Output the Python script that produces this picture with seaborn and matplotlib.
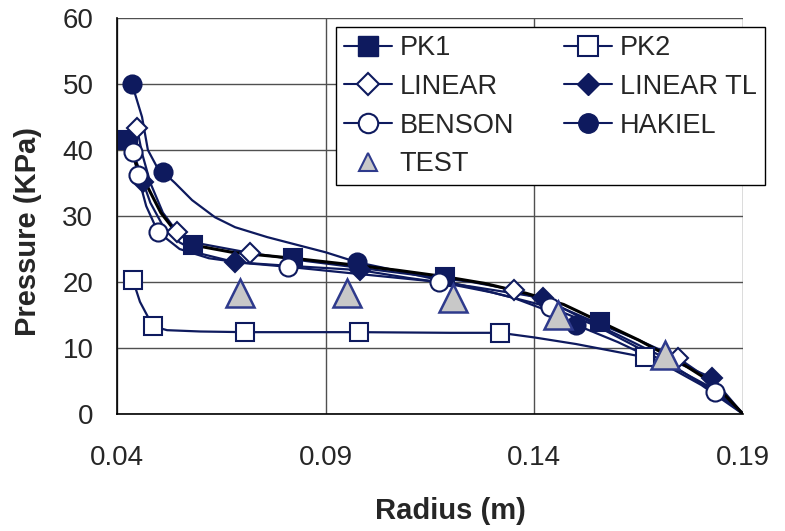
import numpy as np
import pandas as pd
import matplotlib
matplotlib.use("Agg")
import matplotlib.pyplot as plt
from matplotlib.lines import Line2D
import seaborn as sns

# ---------------- data ----------------
series_names = ["PK1", "PK2", "LINEAR", "LINEAR TL", "BENSON", "HAKIEL"]

# curve points (radius m, pressure KPa)
pk1_line_x = [0.0426, 0.0445, 0.0475, 0.0505, 0.0532, 0.0582, 0.0676, 0.0822, 0.095, 0.107, 0.1186, 0.128, 0.138, 0.147, 0.1557, 0.165, 0.175, 0.183, 0.190]
pk1_line_y = [41.5, 38.0, 34.2, 30.5, 28.3, 25.6, 24.5, 23.6, 22.7, 21.8, 20.8, 19.8, 18.3, 16.6, 14.0, 11.2, 7.8, 4.6, 0.0]
pk2_line_x = [0.0438, 0.0455, 0.0486, 0.052, 0.060, 0.0707, 0.098, 0.120, 0.1318, 0.140, 0.150, 0.1665, 0.175, 0.183, 0.190]
pk2_line_y = [20.3, 17.0, 13.3, 12.7, 12.5, 12.4, 12.4, 12.3, 12.3, 11.6, 10.6, 8.6, 6.5, 3.8, 0.0]
lin_line_x = [0.0448, 0.046, 0.048, 0.051, 0.0544, 0.060, 0.0719, 0.085, 0.100, 0.115, 0.125, 0.1351, 0.145, 0.155, 0.165, 0.1744, 0.182, 0.190]
lin_line_y = [43.3, 39.5, 35.0, 30.5, 27.6, 25.8, 24.4, 23.2, 22.0, 20.8, 20.0, 18.8, 16.5, 13.8, 11.2, 8.5, 5.2, 0.0]
lintl_line_x = [0.0438, 0.0462, 0.048, 0.051, 0.055, 0.060, 0.0683, 0.080, 0.0982, 0.110, 0.125, 0.142, 0.150, 0.160, 0.170, 0.1826, 0.190]
lintl_line_y = [40.0, 35.2, 32.0, 28.5, 26.0, 24.3, 23.0, 22.5, 21.8, 20.6, 19.3, 17.6, 15.0, 12.0, 8.9, 5.5, 0.0]
ben_line_x = [0.0438, 0.045, 0.047, 0.0498, 0.055, 0.062, 0.070, 0.081, 0.095, 0.1172, 0.130, 0.1437, 0.155, 0.165, 0.175, 0.1833, 0.190]
ben_line_y = [39.7, 36.2, 31.5, 27.6, 25.0, 23.6, 22.9, 22.3, 21.4, 20.0, 18.4, 16.2, 13.3, 10.0, 6.6, 3.3, 0.0]
hak_line_x = [0.0436, 0.046, 0.0474, 0.0496, 0.051, 0.0539, 0.058, 0.0635, 0.0683, 0.076, 0.0839, 0.090, 0.094, 0.0975, 0.105, 0.115, 0.125, 0.135, 0.143, 0.150, 0.160, 0.170, 0.180, 0.190]
hak_line_y = [50.0, 45.0, 40.0, 37.4, 36.7, 35.0, 32.4, 29.8, 28.3, 26.8, 25.5, 24.5, 23.7, 23.0, 22.0, 20.6, 19.2, 17.6, 15.7, 13.5, 10.9, 7.9, 4.4, 0.0]

# marker points
pk1_mk_x = [0.0426, 0.0582, 0.0822, 0.1186, 0.1557]
pk1_mk_y = [41.5, 25.6, 23.6, 20.8, 14.0]
pk2_mk_x = [0.0438, 0.0486, 0.0707, 0.098, 0.1318, 0.1665]
pk2_mk_y = [20.3, 13.3, 12.4, 12.4, 12.3, 8.6]
lin_mk_x = [0.0448, 0.0544, 0.0719, 0.1351, 0.1744]
lin_mk_y = [43.3, 27.6, 24.4, 18.8, 8.5]
lintl_mk_x = [0.0462, 0.0683, 0.0982, 0.142, 0.1826]
lintl_mk_y = [35.2, 23.0, 21.8, 17.6, 5.5]
ben_mk_x = [0.0438, 0.045, 0.0498, 0.081, 0.1172, 0.1437, 0.1833]
ben_mk_y = [39.7, 36.2, 27.6, 22.3, 20.0, 16.2, 3.3]
hak_mk_x = [0.0436, 0.051, 0.0975, 0.150]
hak_mk_y = [50.0, 36.7, 23.0, 13.5]

test_x = [0.0695, 0.0951, 0.1205, 0.1457, 0.1713]
test_y = [18.3, 18.3, 17.6, 15.0, 8.9]

x_ticks = [0.04, 0.09, 0.14, 0.19]
y_ticks = [0, 10, 20, 30, 40, 50, 60]

# ---------------- styling ----------------
NAVY = "#0E1A5E"
TRI_EDGE = "#2E3A8C"
TRI_FILL = "#C8C8C8"

sns.set_style("white")
plt.rcParams["font.family"] = ["Liberation Sans", "DejaVu Sans"]

fig = plt.figure(figsize=(7.85, 5.31), dpi=100)
ax = fig.add_axes([117 / 785, 1 - 414 / 531, (743 - 117) / 785, (414 - 18) / 531])

lines = {
    "PK1": (pk1_line_x, pk1_line_y),
    "PK2": (pk2_line_x, pk2_line_y),
    "LINEAR": (lin_line_x, lin_line_y),
    "LINEAR TL": (lintl_line_x, lintl_line_y),
    "BENSON": (ben_line_x, ben_line_y),
    "HAKIEL": (hak_line_x, hak_line_y),
}
frames = []
for name, (xs, ys) in lines.items():
    frames.append(pd.DataFrame({"Radius": xs, "Pressure": ys, "series": name,
                                "order": np.arange(len(xs))}))
df = pd.concat(frames, ignore_index=True)

line_colors = {"PK1": "#000000", "PK2": NAVY, "LINEAR": NAVY,
               "LINEAR TL": NAVY, "BENSON": NAVY, "HAKIEL": NAVY}
line_widths = {"PK1": 2.2, "PK2": 1.6, "LINEAR": 1.6, "LINEAR TL": 1.6,
               "BENSON": 1.6, "HAKIEL": 1.6}

for name in ["PK2", "LINEAR", "LINEAR TL", "BENSON", "HAKIEL", "PK1"]:
    sub = df[df["series"] == name]
    sns.lineplot(data=sub, x="Radius", y="Pressure", sort=False, estimator=None,
                 color=line_colors[name], lw=line_widths[name], ax=ax,
                 legend=False, zorder=3)

mk_specs = [
    ("PK1", pk1_mk_x, pk1_mk_y, "s", 13, NAVY),
    ("PK2", pk2_mk_x, pk2_mk_y, "s", 13, "white"),
    ("LINEAR", lin_mk_x, lin_mk_y, "D", 10.5, "white"),
    ("LINEAR TL", lintl_mk_x, lintl_mk_y, "D", 10.5, NAVY),
    ("BENSON", ben_mk_x, ben_mk_y, "o", 13, "white"),
    ("HAKIEL", hak_mk_x, hak_mk_y, "o", 13, NAVY),
]
for name, xs, ys, m, ms, fc in mk_specs:
    ax.plot(xs, ys, ls="none", marker=m, ms=ms, mfc=fc, mec=NAVY, mew=1.5,
            zorder=4, clip_on=False)

ax.plot(test_x, test_y, ls="none", marker="^", ms=20, mfc=TRI_FILL,
        mec=TRI_EDGE, mew=1.8, zorder=5, clip_on=False)

# axes
ax.set_xlim(0.04, 0.19)
ax.set_ylim(0, 60)
ax.set_xticks(x_ticks)
ax.set_xticklabels([f"{v:.2f}" for v in x_ticks])
ax.set_yticks(y_ticks)
ax.set_yticklabels([str(v) for v in y_ticks])
ax.grid(True, color="#505050", lw=1.0)
ax.set_axisbelow(True)
for s in ["top", "right"]:
    ax.spines[s].set_visible(False)
for s in ["left", "bottom"]:
    ax.spines[s].set_color("black")
    ax.spines[s].set_linewidth(1.2)
ax.tick_params(axis="both", which="major", labelsize=20, direction="out",
               length=6, width=1.0, color="black")
ax.tick_params(axis="y", pad=11)
ax.tick_params(axis="x", pad=16)

ax.set_xlabel("Radius (m)", fontsize=21, fontweight="bold")
ax.set_ylabel("Pressure (KPa)", fontsize=21, fontweight="bold")
ax.xaxis.set_label_coords(0.532, -0.245)
ax.xaxis.label.set_va("center")
ax.yaxis.set_label_coords(-0.142, 0.46)
ax.yaxis.label.set_va("center")

# legend
handles = [
    Line2D([], [], color=NAVY, lw=1.5, marker="s", ms=14, mfc=NAVY, mec=NAVY),
    Line2D([], [], color=NAVY, lw=1.5, marker="D", ms=11, mfc="white", mec=NAVY, mew=1.5),
    Line2D([], [], color=NAVY, lw=1.5, marker="o", ms=14, mfc="white", mec=NAVY, mew=1.5),
    Line2D([], [], ls="none", marker="^", ms=13, mfc=TRI_FILL, mec=TRI_EDGE, mew=1.5),
    Line2D([], [], color=NAVY, lw=1.5, marker="s", ms=14, mfc="white", mec=NAVY, mew=1.5),
    Line2D([], [], color=NAVY, lw=1.5, marker="D", ms=11, mfc=NAVY, mec=NAVY),
    Line2D([], [], color=NAVY, lw=1.5, marker="o", ms=14, mfc=NAVY, mec=NAVY),
]
labels = ["PK1", "LINEAR", "BENSON", "TEST", "PK2", "LINEAR TL", "HAKIEL"]
leg = fig.legend(handles, labels, ncol=2, loc="upper right",
                 bbox_to_anchor=(765 / 785, 1 - 27 / 531),
                 fontsize=19.5, frameon=True, fancybox=False, framealpha=1,
                 edgecolor="black", handlelength=1.75, handletextpad=0.3,
                 columnspacing=1.85, labelspacing=0.47, borderpad=0.3,
                 borderaxespad=0)
leg.get_frame().set_linewidth(1.0)

fig.savefig("out.png", dpi=100)
